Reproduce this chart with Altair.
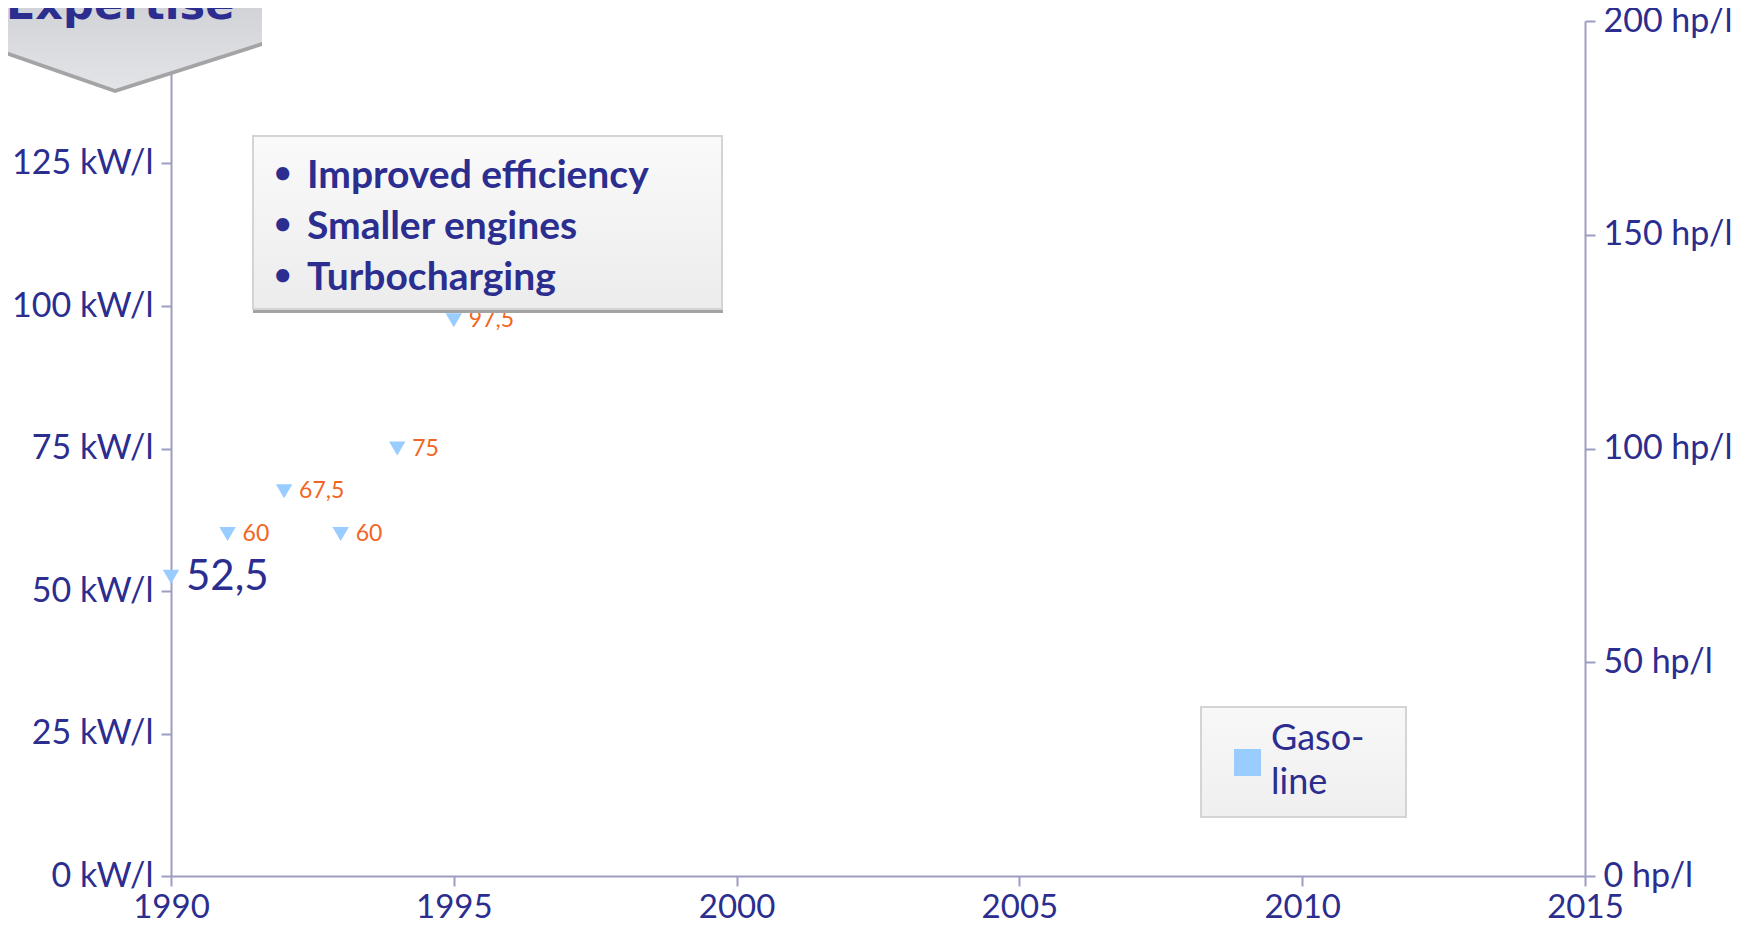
import altair as alt
import pandas as pd

# ---------------- data ----------------
years = [1990, 1991, 1992, 1993, 1994, 1995]
kw_per_litre = [52.5, 60, 67.5, 60, 75, 97.5]
series_name = "Gasoline"
legend_lines = ["Gaso-", "line"]
bullet_lines = ["Improved efficiency", "Smaller engines", "Turbocharging"]
badge_title = "Expertise"
x_ticks = [1990, 1995, 2000, 2005, 2010, 2015]
kw_ticks = [0, 25, 50, 75, 100, 125]
hp_ticks = [0, 50, 100, 150, 200]
KW_MAX = 150
HP_MAX = 200

df = pd.DataFrame({"year": years, "kw": kw_per_litre, "series": series_name})
one = pd.DataFrame({"k": [0]})

# ---------------- style ----------------
NAVY = "#2b2d8f"
AXIS = "#9d9dc2"
BLUE = "#99ccff"
ORANGE = "#f26522"
FONT = "Lato"
W, H = 1414, 855

x_axis = alt.Axis(values=x_ticks, format="d", grid=False, title=None,
                  domainColor=AXIS, domainWidth=2, tickColor=AXIS, tickWidth=2,
                  tickSize=10, labelColor=NAVY, labelFont=FONT, labelFontSize=33,
                  labelPadding=5, labelFlush=False, labelOverlap=False)
x_enc = alt.X("year:Q", scale=alt.Scale(domain=[x_ticks[0], x_ticks[-1]], nice=False, zero=False), axis=x_axis)

y_scale = alt.Scale(domain=[0, KW_MAX], nice=False, zero=True)
common_y = dict(grid=False, title=None, domainColor=AXIS, domainWidth=2, tickColor=AXIS,
                tickWidth=2, tickSize=10, labelColor=NAVY, labelFont=FONT, labelFontSize=34,
                labelPadding=8, labelFlush=False, labelOverlap=False)
y_left = alt.Axis(values=kw_ticks, labelExpr="datum.value + ' kW/l'", orient="left", **common_y)
hp_vals = [h * KW_MAX / HP_MAX for h in hp_ticks]
y_right = alt.Axis(values=hp_vals, orient="right",
                   labelExpr=f"format(round(datum.value * {HP_MAX} / {KW_MAX}), 'd') + ' hp/l'",
                   **common_y)

# ---------------- data layers ----------------
points = alt.Chart(df).mark_point(shape="triangle-down", filled=True, fill=BLUE, size=270,
                                  opacity=1, strokeWidth=0).encode(
    x=x_enc, y=alt.Y("kw:Q", scale=y_scale, axis=y_left))

label_calc = "replace(toString(datum.kw), '.', ',')"
small_labels = alt.Chart(df).transform_filter(f"datum.year != {years[0]}").transform_calculate(
    label=label_calc).mark_text(align="left", baseline="middle", dx=15, font=FONT,
                                fontSize=23, color=ORANGE).encode(
    x=x_enc, y=alt.Y("kw:Q", scale=y_scale, axis=y_right), text="label:N")

big_label = alt.Chart(df).transform_filter(f"datum.year == {years[0]}").transform_calculate(
    label=label_calc).mark_text(align="left", baseline="middle", dx=15, font=FONT,
                                fontSize=42, color=NAVY).encode(
    x=x_enc, y=alt.Y("kw:Q", scale=y_scale, axis=None), text="label:N")

# ---------------- annotation box ----------------
box_grad = alt.LinearGradient(gradient="linear", x1=0, x2=0, y1=0, y2=1,
                              stops=[alt.GradientStop(color="#fafafa", offset=0),
                                     alt.GradientStop(color="#ececec", offset=1)])
box_shadow = alt.Chart(one).mark_rect(fill="#a3a3a3").encode(
    x=alt.value(82), x2=alt.value(552), y=alt.value(120), y2=alt.value(292))
box = alt.Chart(one).mark_rect(fill=box_grad, stroke="#d4d4d4", strokeWidth=2).encode(
    x=alt.value(82), x2=alt.value(551), y=alt.value(115), y2=alt.value(288))
bullets = alt.Chart(one).mark_text(text=["•"] * len(bullet_lines), align="left",
                                   baseline="alphabetic", lineHeight=51, font=FONT,
                                   fontSize=30, fontWeight="bold", color=NAVY).encode(
    x=alt.value(103), y=alt.value(162))
bullet_text = alt.Chart(one).mark_text(text=bullet_lines, align="left", baseline="alphabetic",
                                       lineHeight=51, font=FONT, fontSize=39,
                                       fontWeight="bold", color=NAVY).encode(
    x=alt.value(136), y=alt.value(167))

# ---------------- legend ----------------
leg_grad = alt.LinearGradient(gradient="linear", x1=0, x2=0, y1=0, y2=1,
                              stops=[alt.GradientStop(color="#f8f8f8", offset=0),
                                     alt.GradientStop(color="#efefef", offset=1)])
leg_box = alt.Chart(one).mark_rect(fill=leg_grad, stroke="#d4d4d4", strokeWidth=2).encode(
    x=alt.value(1030), x2=alt.value(1235), y=alt.value(686), y2=alt.value(796))
leg_sym = alt.Chart(one).mark_rect(fill=BLUE).encode(
    x=alt.value(1063), x2=alt.value(1090), y=alt.value(728), y2=alt.value(755))
leg_text = alt.Chart(one).mark_text(text=legend_lines, align="left", baseline="alphabetic",
                                    lineHeight=44, font=FONT, fontSize=36, color=NAVY).encode(
    x=alt.value(1100), y=alt.value(729))

# ---------------- badge ----------------
badge_grad = alt.LinearGradient(gradient="linear", x1=0, x2=0, y1=0, y2=1,
                                stops=[alt.GradientStop(color="#c6c9ce", offset=0),
                                       alt.GradientStop(color="#d6d8dc", offset=0.55),
                                       alt.GradientStop(color="#e2e4e7", offset=1)])
badge_shadow = alt.Chart(one).mark_point(
    shape="M-0.65,0.09L-0.075,0.29L0.66,0.055L0.66,0.08L-0.075,0.315L-0.65,0.115Z",
    filled=True, fill="#a4a4a6", size=160000, opacity=1, strokeWidth=0).encode(
    x=alt.value(-41), y=alt.value(9))
badge = alt.Chart(one).mark_point(
    shape="M-0.65,-0.35L0.66,-0.35L0.66,0.06L-0.075,0.295L-0.65,0.095Z",
    filled=True, fill=badge_grad, size=160000, opacity=1, strokeWidth=0).encode(
    x=alt.value(-41), y=alt.value(9))
badge_text = alt.Chart(one).mark_text(text=badge_title, align="left", baseline="alphabetic",
                                      font="DejaVu Sans", fontSize=43, fontWeight="bold",
                                      color=NAVY).encode(
    x=alt.value(-165), y=alt.value(-2))

chart = alt.layer(
    points, small_labels, big_label,
    box_shadow, box, bullets, bullet_text,
    leg_box, leg_sym, leg_text,
    badge_shadow, badge, badge_text,
).resolve_scale(y="independent").resolve_axis(y="independent").properties(
    width=W, height=H,
    autosize=alt.AutoSizeParams(type="none"),
    padding={"left": 163, "top": 13, "right": 150, "bottom": 49},
    background="white",
).configure_view(strokeWidth=0)

chart.save("out.html", embed_options={"renderer": "svg", "actions": False})
